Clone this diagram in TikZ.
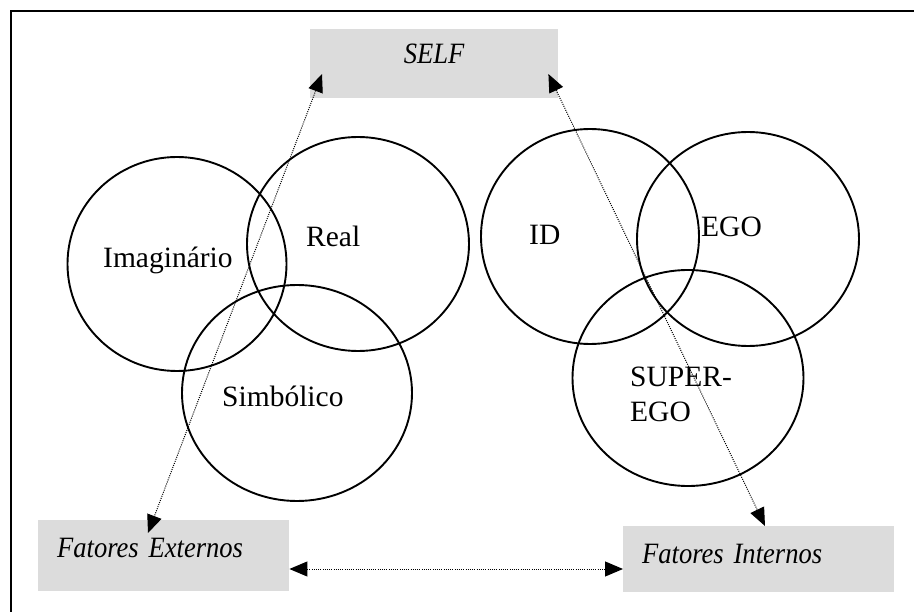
\documentclass[tikz,border=0pt]{standalone}
\usepackage{fontspec}
\setmainfont{Liberation Serif}[ItalicFeatures={FakeStretch=0.9}]
\usetikzlibrary{arrows.meta,calc}
\definecolor{boxgray}{RGB}{220,220,220}

\begin{document}
\begin{tikzpicture}[x=1pt,y=-1pt,
    font=\fontsize{29.5pt}{35pt}\selectfont,
    ring/.style={line width=1.9pt},
    fbox/.style={fill=boxgray,inner ysep=0pt,inner xsep=19pt,align=left,anchor=north west,font=\fontsize{29.5pt}{35pt}\selectfont\itshape},
    word/.style={anchor=base west,inner sep=0pt},
    link/.style={line width=1pt,dash pattern=on 1pt off 1.2pt,{Triangle[length=18pt,width=15pt]}-{Triangle[length=18pt,width=15pt]}}]
  \useasboundingbox (0,0) rectangle (914,612);
  \draw[line width=1.6pt] (914,11) -- (11,11) -- (11,612);
  \node[fbox,inner xsep=0pt,text width=248pt,align=center,text height=34pt,text depth=35pt] (self) at (310,29) {SELF};
  \node[fbox,text width=213pt,text height=37pt,text depth=34pt] (fext) at (38,520) {Fatores Externos};
  \node[fbox,text width=233pt,text height=37pt,text depth=29pt] (fint) at (623,526) {Fatores Internos};
      \draw[ring] (177,264) ellipse [x radius=109.5pt,y radius=107pt];
      \draw[ring] (358,244) ellipse [x radius=111pt,y radius=107pt];
      \draw[ring] (297,393) ellipse [x radius=115pt,y radius=108pt];
      \draw[ring] (590,236.5) ellipse [x radius=109pt,y radius=107.5pt];
      \draw[ring] (748,239) ellipse [x radius=111pt,y radius=107pt];
      \draw[ring] (688,378) ellipse [x radius=115.5pt,y radius=108pt];
  \node[word] (imag) at (103,268) {Imaginário};
  \node[word] (real) at (306,247) {Real};
  \node[word] (simb) at (222,407) {Simbólico};
  \node[word] (id) at (529,245) {ID};
  \node[word] (ego) at (701,237) {EGO};
  \node[word,align=left] (superego) at (630,422) {SUPER-\\EGO};
  \draw[link] ($(self.north west)+(12,45)$) -- ($(fext.north west)+(110,13)$);
  \draw[link] ($(self.north east)+(-10,45)$) -- ($(fint.north west)+(142,0)$);
  \draw[link] ($(fext.north east)+(0,49)$) -- ($(fint.north west)+(0,43)$);
\end{tikzpicture}
\end{document}
